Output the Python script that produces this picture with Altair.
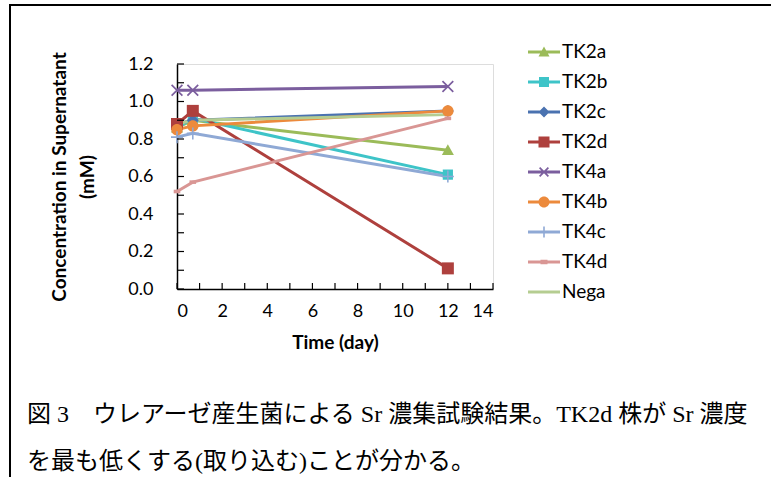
import altair as alt
import pandas as pd

# ---------------- data ----------------
series = ["TK2a", "TK2b", "TK2c", "TK2d", "TK4a", "TK4b", "TK4c", "TK4d", "Nega"]
days = [0, 0.7, 12]
tk2a = [0.86, 0.90, 0.74]
tk2b = [0.86, 0.91, 0.61]
tk2c = [0.88, 0.90, 0.95]
tk2d = [0.88, 0.95, 0.11]
tk4a = [1.06, 1.06, 1.08]
tk4b = [0.85, 0.87, 0.95]
tk4c = [0.81, 0.83, 0.60]
tk4d = [0.52, 0.57, 0.91]
nega = [0.88, 0.90, 0.93]
values = [tk2a, tk2b, tk2c, tk2d, tk4a, tk4b, tk4c, tk4d, nega]

y_tick_values = [0.0, 0.1, 0.2, 0.3, 0.4, 0.5, 0.6, 0.7, 0.8, 0.9, 1.0, 1.1, 1.2]
y_label_values = [0.0, 0.2, 0.4, 0.6, 0.8, 1.0, 1.2]
x_tick_values = [0, 1, 2, 3, 4, 5, 6, 7, 8, 9, 10, 11, 12, 13, 14]
x_label_values = [0, 2, 4, 6, 8, 10, 12, 14]

y_title = ["Concentration in Supernatant", "(mM)"]
x_title = "Time (day)"
caption_line1 = "図 3\u3000ウレアーゼ産生菌による Sr 濃集試験結果。TK2d 株が Sr 濃度"
caption_line2 = "を最も低くする(取り込む)ことが分かる。"

colors = ["#9BBB59", "#3EC4C8", "#4A72B0", "#AE403D", "#7B5E9E",
          "#EC8A3C", "#8FA9D5", "#D99694", "#B5CD91"]

# marker paths for the plot (unit box -1..1)
marker_paths = [
    "M0,-1L1,0.8L-1,0.8Z",                                   # triangle
    "M-0.85,-0.85H0.85V0.85H-0.85Z",                         # square
    "M0,-1L1,0L0,1L-1,0Z",                                   # diamond
    "M-1,-1H1V1H-1Z",                                        # big square
    "M-1,-0.8L-0.8,-1L1,0.8L0.8,1Z M0.8,-1L1,-0.8L-0.8,1L-1,0.8Z",  # x
    "M-0.95,0A0.95,0.95 0 1,1 0.95,0A0.95,0.95 0 1,1 -0.95,0Z",  # circle
    "M-0.13,-1H0.13V1H-0.13Z M-1,-0.13H1V0.13H-1Z",          # plus
    "M-0.55,-0.3H0.55V0.3H-0.55Z",                           # dash
    "M0,0Z",                                                 # none
]

LINE = "M-1.6,-0.15H1.6V0.15H-1.6Z "
legend_paths = [
    LINE + "M0,-0.55L0.55,0.45L-0.55,0.45Z",
    LINE + "M-0.5,-0.5H0.5V0.5H-0.5Z",
    LINE + "M0,-0.55L0.55,0L0,0.55L-0.55,0Z",
    LINE + "M-0.55,-0.55H0.55V0.55H-0.55Z",
    LINE + "M-0.5,-0.38L-0.38,-0.5L0.5,0.38L0.38,0.5Z M0.38,-0.5L0.5,-0.38L-0.38,0.5L-0.5,0.38Z",
    LINE + "M-0.55,0A0.55,0.55 0 1,1 0.55,0A0.55,0.55 0 1,1 -0.55,0Z",
    LINE + "M-0.08,-0.55H0.08V0.55H-0.08Z",
    LINE + "M-0.35,-0.22H0.35V0.22H-0.35Z",
    LINE,
]

rows = []
for name, vals in zip(series, values):
    for d, v in zip(days, vals):
        rows.append({"series": name, "day": d, "value": v})
df = pd.DataFrame(rows)

W, H = 316, 225
FONT = "Lato"

xscale = alt.Scale(domain=[0, 14], nice=False, zero=False)
yscale = alt.Scale(domain=[0, 1.2], nice=False, zero=False)

x_axis = alt.Axis(
    values=x_label_values, format="d", title=x_title, ticks=False, grid=False,
    domainColor="black", domainWidth=1.5,
    labelFont=FONT, labelFontSize=18, labelColor="black", labelPadding=13,
    titleFont=FONT, titleFontSize=19, titleFontWeight="bold", titleColor="black",
    titlePadding=13)
y_axis = alt.Axis(
    values=y_label_values, format=".1f", title=y_title, ticks=False, grid=False,
    domainColor="black", domainWidth=1.5,
    labelFont=FONT, labelFontSize=18, labelColor="black", labelPadding=24,
    titleFont=FONT, titleFontSize=19, titleFontWeight="bold", titleColor="black",
    titleLineHeight=28, titlePadding=30)

x_enc = alt.X("day:Q", scale=xscale, axis=x_axis)
y_enc = alt.Y("value:Q", scale=yscale, axis=y_axis)

color_scale = alt.Scale(domain=series, range=colors)

lines = alt.Chart(df).mark_line(strokeWidth=3).encode(
    x=x_enc, y=y_enc,
    color=alt.Color("series:N", scale=color_scale, legend=None),
    order=alt.Order("day:Q"),
)

points = alt.Chart(df).transform_filter(alt.datum.series != "Nega").mark_point(
    filled=True, opacity=1, size=144).encode(
    x=x_enc, y=y_enc,
    color=alt.Color("series:N", scale=color_scale, legend=None),
    shape=alt.Shape("series:N", scale=alt.Scale(domain=series, range=marker_paths), legend=None),
)

leg = alt.Legend(title=None, orient="none", legendX=357, legendY=-22, padding=0,
                 labelFont=FONT, labelFontSize=19, labelColor="black", labelOffset=8,
                 symbolSize=400, symbolStrokeWidth=0, rowPadding=10, symbolOpacity=1)

legend_layer = alt.Chart(df).transform_calculate(lseries="datum.series").transform_filter(
    "false").mark_point(filled=True, opacity=1).encode(
    x=x_enc, y=y_enc,
    color=alt.Color("lseries:N", scale=alt.Scale(domain=series, range=colors), legend=leg),
    shape=alt.Shape("lseries:N", scale=alt.Scale(domain=series, range=legend_paths), legend=leg),
)

ytick_df = pd.DataFrame({"value": y_tick_values})
xtick_df = pd.DataFrame({"day": x_tick_values})

yticks = alt.Chart(ytick_df).mark_rule(color="black", strokeWidth=1.2).encode(
    y=y_enc, x=alt.value(0), x2=alt.value(7))
xticks = alt.Chart(xtick_df).mark_rule(color="black", strokeWidth=1.2).encode(
    x=x_enc, y=alt.value(H), y2=alt.value(H - 6))

one = alt.Data(values=[{"k": 1}])
frame_left = alt.Chart(one).mark_rule(color="black", strokeWidth=2).encode(
    x=alt.value(-167), y=alt.value(-60), y2=alt.value(413))
frame_top = alt.Chart(one).mark_rule(color="black", strokeWidth=2).encode(
    x=alt.value(-168), x2=alt.value(594), y=alt.value(-59))

CAP_FONT = "Liberation Serif, Noto Sans CJK JP"
cap1 = alt.Chart(one).mark_text(
    align="left", baseline="middle", font=CAP_FONT, fontSize=24, color="black").encode(
    x=alt.value(-150), y=alt.value(351), text=alt.value(caption_line1))
cap2 = alt.Chart(one).mark_text(
    align="left", baseline="middle", font=CAP_FONT, fontSize=24, color="black").encode(
    x=alt.value(-150), y=alt.value(398), text=alt.value(caption_line2))

chart = alt.layer(
    lines, points, yticks, xticks, legend_layer, frame_left, frame_top, cap1, cap2
).resolve_scale(
    color="independent", shape="independent"
).properties(
    width=W, height=H,
    autosize=alt.AutoSizeParams(type="none"),
    padding={"left": 177, "top": 64, "right": 771 - 177 - W, "bottom": 477 - 64 - H},
).configure_view(stroke="#3a3a3a", strokeWidth=1.5).configure(background="white")

chart.save("out.html", embed_options={"renderer": "svg", "actions": False})
